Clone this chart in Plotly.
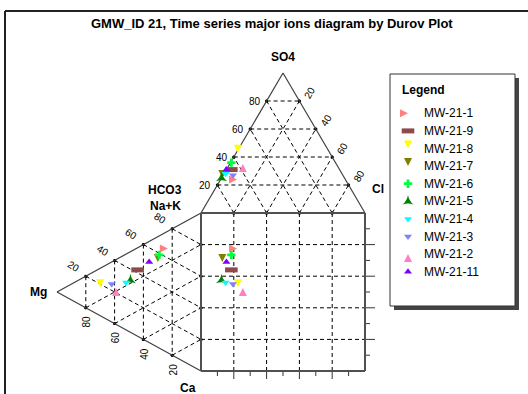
import numpy as np
import plotly.graph_objects as go

# ---------------- data (percent of meq) ----------------
samples = ["MW-21-1", "MW-21-9", "MW-21-8", "MW-21-7", "MW-21-6",
           "MW-21-5", "MW-21-4", "MW-21-3", "MW-21-2", "MW-21-11"]
so4 = [24, 31, 43, 25, 36, 25, 28, 27, 35, 31]
cl = [10, 3, 1, 0.5, 0.5, 0, 1, 6, 8, 0]
mg = [23, 44, 70, 30, 29, 49, 52, 62, 59, 36]
nak = [66, 42, 18, 54, 59, 33, 30, 24, 23, 51]
hco3 = [100 - a - b for a, b in zip(so4, cl)]
ca = [100 - a - b for a, b in zip(mg, nak)]

colors = ["#FF8080", "#8E4A4A", "#FFFF00", "#808000", "#00FF40",
          "#008000", "#00FFFF", "#8080FF", "#FF80C0", "#8000FF"]
symbols = ["arrow-right", "line-ew", "arrow-down", "arrow-down", "cross",
           "star-triangle-up", "triangle-down", "triangle-down", "arrow-up", "triangle-up"]
sizes = [8, 9, 8, 8, 7, 8, 7, 7, 8, 7]
grid_levels = [20, 40, 60, 80]

# ---------------- geometry ----------------
W, HP = 528, 394
SQ_L, SQ_R, SQ_T, SQ_B = 201, 365, 213, 371
sx = (SQ_R - SQ_L) / 100.0
sy = (SQ_B - SQ_T) / 100.0
X0 = -SQ_L / sx
X1 = X0 + W / sx
Y0 = -(HP - SQ_B) / sy
Y1 = Y0 + HP / sy
HT = 140 / sy      # top triangle height (data units)
HL = 144 / sx      # left triangle depth (data units)


def top_xy(h, s, c):
    t = h + s + c
    s, c = s / t, c / t
    return 100 * c + 50 * s, 100 + HT * s


def left_xy(n, m, a):
    t = n + m + a
    n, m = n / t, m / t
    return -HL * m, 100 * n + 50 * m


def seg_trace(segs, color, width, dash=None):
    xs, ys = [], []
    for (xa, ya), (xb, yb) in segs:
        xs += [xa, xb, None]
        ys += [ya, yb, None]
    return go.Scatter(x=xs, y=ys, mode="lines", hoverinfo="skip", showlegend=False,
                      line=dict(color=color, width=width, dash=dash))


fig = go.Figure()

# ---------------- grids ----------------
grid = []
dots = []
for k in grid_levels:
    # top triangle
    a = top_xy(100 - k, k, 0); b = top_xy(0, k, 100 - k)
    grid.append((a, b)); dots += [a, b]
    a = top_xy(100 - k, 0, k); b = top_xy(0, 100 - k, k)
    grid.append((a, b)); dots += [a, b]
    a = top_xy(k, 0, 100 - k); b = top_xy(k, 100 - k, 0)
    grid.append((a, b)); dots += [a, b]
    # left triangle
    a = left_xy(100 - k, k, 0); b = left_xy(0, k, 100 - k)
    grid.append((a, b)); dots += [a, b]
    a = left_xy(k, 100 - k, 0); b = left_xy(k, 0, 100 - k)
    grid.append((a, b)); dots += [a, b]
    a = left_xy(0, 100 - k, k); b = left_xy(100 - k, 0, k)
    grid.append((a, b)); dots += [a, b]
    # square
    grid.append(((k, 0), (k, 100)))
    grid.append(((0, k), (100, k)))
fig.add_trace(seg_trace(grid, "#000000", 1, "4px,3px"))

# ticks on square
ticks = []
for k in range(10, 100, 10):
    major = k % 20 == 0
    ticks.append(((k, 0), (k, -(8 if major else 5) / sy)))
    ticks.append(((100, k), (100 + (10 if major else 5) / sx, k)))
fig.add_trace(seg_trace(ticks, "#333333", 1))

fig.add_trace(go.Scatter(x=[d[0] for d in dots], y=[d[1] for d in dots], mode="markers",
                         hoverinfo="skip", showlegend=False,
                         marker=dict(size=3, color="#000000")))

# outlines
tri = [(top_xy(100, 0, 0), top_xy(0, 100, 0)), (top_xy(0, 100, 0), top_xy(0, 0, 100)),
       (left_xy(100, 0, 0), left_xy(0, 100, 0)), (left_xy(0, 100, 0), left_xy(0, 0, 100))]
fig.add_trace(seg_trace(tri, "#404040", 1.2))
sq = [((0, 0), (100, 0)), ((100, 0), (100, 100)), ((100, 100), (0, 100)), ((0, 100), (0, 0))]
fig.add_trace(seg_trace(sq, "#505050", 2))

# ---------------- data points ----------------
for i, name in enumerate(samples):
    tx, ty = top_xy(hco3[i], so4[i], cl[i])
    lx, ly = left_xy(nak[i], mg[i], ca[i])
    mk = dict(symbol=symbols[i], size=sizes[i], color=colors[i],
              line=dict(color=colors[i], width=5 if symbols[i] == "line-ew" else 0))
    fig.add_trace(go.Scatter(x=[tx, lx, tx], y=[ty, ly, ly], mode="markers", name=name,
                             showlegend=False, marker=mk))
    # legend entry on its own axes
    fig.add_trace(go.Scatter(x=[18], y=[39.3 + 17.6 * i], mode="markers", xaxis="x2", yaxis="y2",
                             showlegend=False, hoverinfo="skip", marker=mk))

# ---------------- annotations ----------------
FONT = "Liberation Sans, Arial, sans-serif"
ann = []


def lab(x, y, text, xs=0, ys=0, ang=0, size=10, bold=False, xanchor="center", xref="x", yref="y"):
    ann.append(dict(x=x, y=y, xref=xref, yref=yref, text=f"<b>{text}</b>" if bold else text,
                    showarrow=False, xshift=xs, yshift=ys, textangle=ang, xanchor=xanchor,
                    yanchor="middle",
                    font=dict(family=FONT, size=size, color="#000000")))


for k in grid_levels:
    x, y = top_xy(100 - k, k, 0)
    lab(x, y, str(k), xs=-12)
    x, y = top_xy(0, 100 - k, k)
    lab(x, y, str(k), xs=10, ys=9, ang=-60)
    x, y = left_xy(k, 100 - k, 0)
    lab(x, y, str(k), xs=-12, ys=10, ang=32)
    x, y = left_xy(0, k, 100 - k)
    lab(x, y, str(k), xs=1, ys=-14, ang=-90)

x, y = top_xy(0, 100, 0); lab(x, y, "SO4", ys=16, size=12, bold=True)
x, y = top_xy(0, 0, 100); lab(x, y, "Cl", xs=13, ys=24, size=12, bold=True)
x, y = top_xy(100, 0, 0); lab(x, y, "HCO3", xs=-36, ys=23, size=12, bold=True)
lab(x, y, "Na+K", xs=-36, ys=7, size=12, bold=True)
x, y = left_xy(0, 100, 0); lab(x, y, "Mg", xs=-19, size=12, bold=True)
x, y = left_xy(0, 0, 100); lab(x, y, "Ca", xs=-13, ys=-17, size=12, bold=True)

lab(272 / W, 1 - 24 / HP, "GMW_ID 21, Time series major ions diagram by Durov Plot",
    size=13, bold=True, xref="paper", yref="paper")

# legend texts
lab(10, 16, "Legend", size=12, bold=True, xanchor="left", xref="x2", yref="y2")
for i, name in enumerate(samples):
    lab(32, 39.3 + 17.6 * i, name, size=12, xanchor="left", xref="x2", yref="y2")

# ---------------- legend box & frame ----------------
LB_L, LB_R, LB_T, LB_B = 390, 515, 74, 306


def px(xp):
    return xp / W


def py(yp):
    return 1 - yp / HP


shapes = [
    dict(type="rect", xref="paper", yref="paper", x0=px(LB_L + 4), x1=px(LB_R + 4),
         y0=py(LB_B + 4), y1=py(LB_T + 4), fillcolor="#444444", line=dict(width=0), layer="below"),
    dict(type="rect", xref="paper", yref="paper", x0=px(LB_L), x1=px(LB_R),
         y0=py(LB_B), y1=py(LB_T), fillcolor="#FFFFFF", line=dict(color="#333333", width=1), layer="below"),
    dict(type="line", xref="paper", yref="paper", x0=px(5), x1=px(W + 5), y0=py(11), y1=py(11),
         line=dict(color="#222222", width=2)),
    dict(type="line", xref="paper", yref="paper", x0=px(5), x1=px(5), y0=py(11), y1=py(HP + 5),
         line=dict(color="#222222", width=2)),
]

fig.update_layout(
    width=W, height=HP, autosize=False,
    margin=dict(l=0, r=0, t=0, b=0),
    paper_bgcolor="#FFFFFF", plot_bgcolor="rgba(0,0,0,0)",
    showlegend=False,
    xaxis=dict(range=[X0, X1], visible=False, fixedrange=True),
    yaxis=dict(range=[Y0, Y1], visible=False, fixedrange=True),
    xaxis2=dict(domain=[px(LB_L), px(LB_R)], range=[0, LB_R - LB_L], visible=False,
                anchor="y2", fixedrange=True),
    yaxis2=dict(domain=[py(LB_B), py(LB_T)], range=[LB_B - LB_T, 0], visible=False,
                anchor="x2", fixedrange=True),
    annotations=ann,
    shapes=shapes,
)

fig.write_html("out.html", config={"displayModeBar": False},
               post_script="document.body.style.margin='0';document.body.style.overflow='hidden';")
